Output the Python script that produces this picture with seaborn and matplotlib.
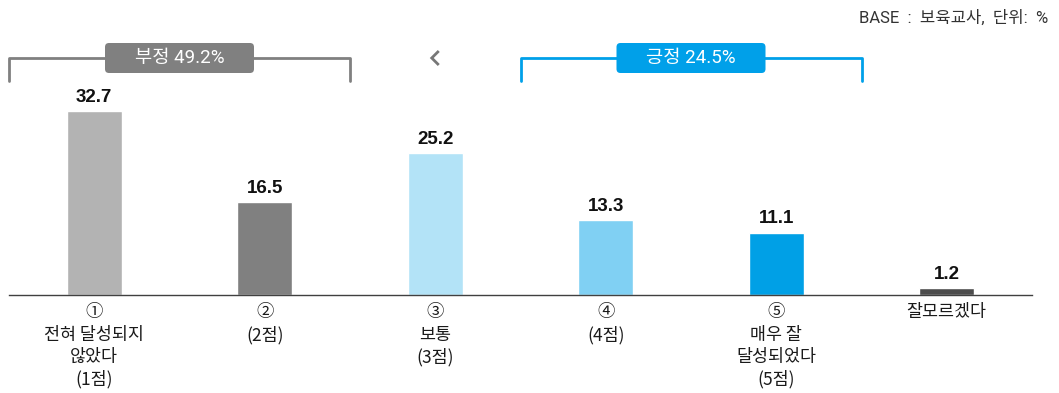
import matplotlib
matplotlib.use("Agg")
import matplotlib.pyplot as plt
from matplotlib.patches import FancyBboxPatch
import seaborn as sns
import pandas as pd

sns.set_theme(style="white")
plt.rcParams['font.family'] = ['Noto Sans CJK KR', 'DejaVu Sans']
LATIN_KR = ['Roboto', 'Noto Sans CJK KR']

categories = ["①\n전혀 달성되지\n않았다\n(1점)", "②\n(2점)", "③\n보통\n(3점)",
              "④\n(4점)", "⑤\n매우 잘\n달성되었다\n(5점)", "잘모르겠다"]
values = [32.7, 16.5, 25.2, 13.3, 11.1, 1.2]
colors = ["#B3B3B3", "#808080", "#B3E3F7", "#80D0F3", "#00A0E6", "#4D4D4D"]
negative_label = "부정 49.2%"
positive_label = "긍정 24.5%"
base_note = "BASE  :  보육교사,  단위:  %"

df = pd.DataFrame({"cat": categories, "val": values})

W, H = 1059, 393
fig = plt.figure(figsize=(W / 100, H / 100), dpi=100)
ax_left, ax_right, ax_bottom_px, ax_top_px = 9, 1032, 295, 40
ax = fig.add_axes([ax_left / W, 1 - ax_bottom_px / H,
                   (ax_right - ax_left) / W, (ax_bottom_px - ax_top_px) / H])

sns.barplot(data=df, x="cat", y="val", hue="cat", palette=colors,
            width=0.32, legend=False, ax=ax, saturation=1)

ymax = 45.3
ax.set_xlim(-0.5, len(categories) - 0.5)
ax.set_ylim(0, ymax)
px_per_y = (ax_bottom_px - ax_top_px) / ymax
px_per_x = (ax_right - ax_left) / len(categories)

for i, v in enumerate(values):
    ax.text(i, v + 0.9, f"{v:.1f}", ha="center", va="bottom",
            fontsize=13.5, fontweight="bold", color="#111111",
            family="Liberation Sans")

for s in ["top", "right", "left"]:
    ax.spines[s].set_visible(False)
ax.spines["bottom"].set_color("#404040")
ax.spines["bottom"].set_linewidth(1.0)
ax.set_yticks([])
ax.set_xlabel("")
ax.set_ylabel("")
ax.set_xticks(range(len(categories)))
ax.set_xticklabels(categories, fontsize=12.5, color="#1a1a1a", linespacing=1.3, va="top")
ax.tick_params(axis="x", which="major", length=0, pad=6)
ax.set_xticks([i - 0.5 for i in range(len(categories) + 1)], minor=True)
ax.tick_params(axis="x", which="minor", direction="in", length=5, width=1, color="#404040")


def y_of(px):
    return (ax_bottom_px - px) / px_per_y


def bracket(x0, x1, color, label):
    yh, yl = y_of(58), y_of(81)
    ax.plot([x0, x0, x1, x1], [yl, yh, yh, yl], color=color, lw=2,
            solid_joinstyle="round", clip_on=False)
    bw, bh = 149 / px_per_x, 30 / px_per_y
    xc = (x0 + x1) / 2
    r = 4 / px_per_x
    box = FancyBboxPatch((xc - bw / 2, yh - bh / 2), bw, bh,
                         boxstyle=f"round,pad=0,rounding_size={r}",
                         mutation_aspect=px_per_x / px_per_y,
                         fc=color, ec="none", clip_on=False, zorder=5)
    ax.add_patch(box)
    ax.text(xc, yh, label, ha="center", va="center", color="white",
            fontsize=13.5, fontweight="normal", zorder=6, clip_on=False,
            family=LATIN_KR)


bracket(-0.5, 1.5, "#808080", negative_label)
bracket(2.5, 4.5, "#00A0E9", positive_label)

# chevron between the two groups
cx, cy = 2.0, y_of(58)
dx, dy = 3.5 / px_per_x, 7 / px_per_y
ax.plot([cx + dx, cx - dx, cx + dx], [cy + dy, cy, cy - dy], color="#777777",
        lw=2.0, solid_joinstyle="miter", solid_capstyle="butt", clip_on=False)

fig.text(1048 / W, 1 - 18 / H, base_note, ha="right", va="center",
         fontsize=12, color="#333333", family=LATIN_KR)

fig.savefig("out.png", dpi=100)
